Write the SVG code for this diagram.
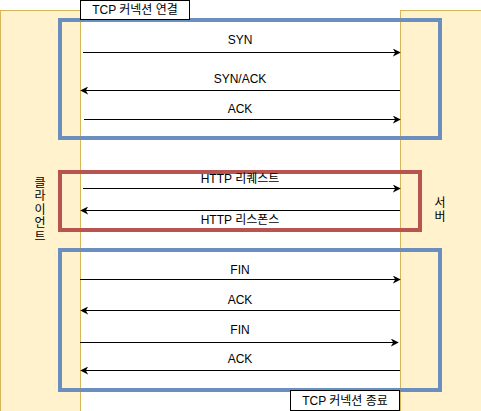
<svg xmlns="http://www.w3.org/2000/svg" width="481" height="411" viewBox="0 0 481 411">
<style>
.life{fill:#fff2cc;stroke:#d6b656;stroke-width:1}
.grp{fill:none;stroke-width:4}
.blue{stroke:#6c8ebf}
.red{stroke:#b85450}
.msg{stroke:#000;stroke-width:1;fill:none}
text{font-family:"Liberation Sans","Noto Sans CJK KR",sans-serif;font-size:12px;fill:#000;text-anchor:middle;dominant-baseline:central}
.lbl{fill:#fff;stroke:#000;stroke-width:1}
</style>
<defs>
<marker id="ah" viewBox="0 0 10 10" refX="9" refY="5" markerWidth="8" markerHeight="8" markerUnits="userSpaceOnUse" orient="auto">
<path d="M0,0 L10,5 L0,10 L3,5 Z" fill="#000"/>
</marker>
</defs>
<g id="client">
<rect class="life" x="0.5" y="10.5" width="80" height="401"/>
<text x="40" y="182.5">클</text>
<text x="40" y="196">라</text>
<text x="40" y="209.5">이</text>
<text x="40" y="223">언</text>
<text x="40" y="236.5">트</text>
</g>
<g id="server">
<rect class="life" x="400.5" y="10.5" width="81" height="401"/>
<text x="440" y="203">서</text>
<text x="440" y="217">버</text>
</g>
<g id="tcp-open">
<rect class="grp blue" x="60" y="20" width="380" height="118"/>
</g>
<g id="http">
<rect class="grp red" x="60" y="172" width="360" height="58"/>
</g>
<g id="tcp-close">
<rect class="grp blue" x="60" y="250" width="380" height="140"/>
</g>
<g id="connectors">
<line class="msg" x1="83" y1="52.5" x2="400" y2="52.5" marker-end="url(#ah)"/>
<line class="msg" x1="400" y1="90.5" x2="81" y2="90.5" marker-end="url(#ah)"/>
<line class="msg" x1="84" y1="119.5" x2="400" y2="119.5" marker-end="url(#ah)"/>
<line class="msg" x1="83" y1="188.5" x2="400" y2="188.5" marker-end="url(#ah)"/>
<line class="msg" x1="400" y1="210.5" x2="81" y2="210.5" marker-end="url(#ah)"/>
<line class="msg" x1="80" y1="279.5" x2="400" y2="279.5" marker-end="url(#ah)"/>
<line class="msg" x1="400" y1="310.5" x2="81" y2="310.5" marker-end="url(#ah)"/>
<line class="msg" x1="80" y1="342.5" x2="398" y2="342.5" marker-end="url(#ah)"/>
<line class="msg" x1="400" y1="370.5" x2="81" y2="370.5" marker-end="url(#ah)"/>
<text x="240" y="40">SYN</text>
<text x="240" y="79">SYN/ACK</text>
<text x="240" y="109">ACK</text>
<text x="240" y="179">HTTP 리퀘스트</text>
<text x="240" y="220">HTTP 리스폰스</text>
<text x="240" y="270">FIN</text>
<text x="240" y="300">ACK</text>
<text x="240" y="330">FIN</text>
<text x="240" y="359">ACK</text>
</g>
<g id="label-open">
<rect class="lbl" x="80.5" y="0.5" width="109" height="19"/>
<text x="135" y="10">TCP 커넥션 연결</text>
</g>
<g id="label-close">
<rect class="lbl" x="290.5" y="390.5" width="109" height="20"/>
<text x="345" y="400.5">TCP 커넥션 종료</text>
</g>
</svg>
